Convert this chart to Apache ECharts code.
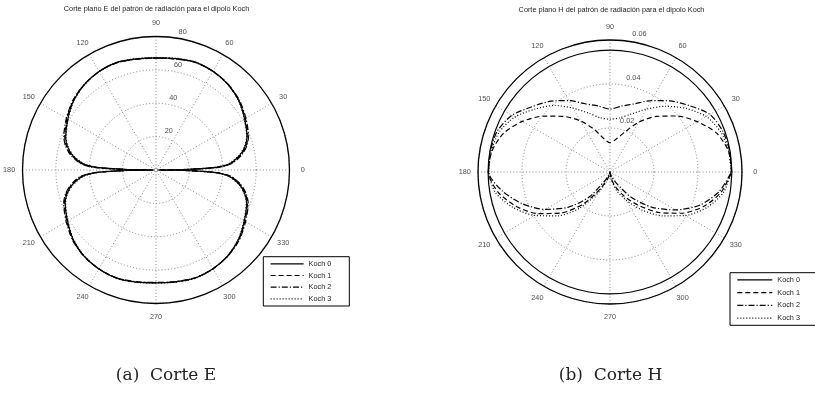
<!DOCTYPE html>
<html>
<head>
<meta charset="utf-8">
<script src="https://cdn.jsdelivr.net/npm/echarts@6/dist/echarts.min.js"></script>
<style>
  html, body { margin: 0; padding: 0; background: #fff; }
  #chart { width: 815px; height: 407px; }
</style>
</head>
<body>
<div id="chart"></div>
<script>
// Angles (degrees) at which the E-plane cut is sampled
const ePhi = [0, 1, 2.5, 5, 10, 15, 20, 30, 40, 50, 60, 70, 80, 90, 100, 110, 120, 130, 140, 150, 160, 165, 170, 175, 177.5, 179, 180,
  181, 182.5, 185, 190, 195, 200, 210, 220, 230, 240, 250, 260, 270, 280, 290, 300, 310, 320, 330, 340, 345, 350, 355, 357.5, 359, 360];

// E-plane magnitude for each Koch iteration
const eKoch0 = [1.5, 18, 36, 44.5, 51, 55.3, 58, 61.3, 64.7, 67, 68.3, 68.8, 67.8, 67.2, 67.6, 68.6, 68.2, 66.8, 64.5, 61, 57.6, 55, 50.8, 44, 35.5, 17, 1.5,
  17.5, 35.8, 44.3, 51, 55.2, 57.9, 61.2, 64.8, 67.2, 68.5, 69, 68.2, 67.6, 68.1, 68.9, 68.4, 67, 64.6, 61.1, 57.8, 55.1, 50.9, 44.2, 35.7, 17.8, 1.5];
const eKoch1 = [2, 19, 37, 45.2, 51.6, 55.9, 58.6, 61.8, 64.9, 67.1, 68.2, 68.7, 67.7, 67.1, 67.5, 68.5, 68.1, 66.9, 64.8, 61.6, 58.2, 55.6, 51.4, 44.8, 36.5, 18.5, 2,
  18.6, 36.6, 45, 51.5, 55.8, 58.5, 61.7, 65, 67.3, 68.4, 68.9, 68.1, 67.5, 68, 68.8, 68.3, 67.1, 64.9, 61.6, 58.3, 55.6, 51.4, 44.9, 36.6, 18.8, 2];
const eKoch2 = [2.5, 20, 38, 45.8, 52.2, 56.4, 59, 62.2, 65.2, 67.2, 68.3, 68.6, 67.6, 67, 67.4, 68.4, 68.2, 67, 65, 62, 58.8, 56.2, 52, 45.5, 37.5, 19.5, 2.5,
  19.6, 37.6, 45.6, 52, 56.2, 58.9, 62.1, 65.3, 67.4, 68.4, 68.8, 68, 67.4, 67.9, 68.7, 68.3, 67.2, 65.2, 62, 58.8, 56.1, 51.9, 45.5, 37.4, 19.7, 2.5];
const eKoch3 = [1, 16, 34.5, 43.8, 50.5, 55, 57.8, 61.1, 64.6, 67, 68.4, 68.9, 68, 67.4, 67.8, 68.7, 68.3, 66.7, 64.3, 60.8, 57.3, 54.6, 50.3, 43.4, 34.8, 16.2, 1,
  16.5, 35, 43.6, 50.4, 54.9, 57.6, 61, 64.6, 67.1, 68.5, 69.1, 68.3, 67.7, 68.2, 69, 68.5, 67, 64.4, 60.9, 57.5, 54.7, 50.5, 43.6, 35.1, 16.8, 1];

// Angles (degrees) at which the H-plane cut is sampled
const hPhi = [0, 10, 20, 30, 40, 50, 60, 70, 80, 90, 100, 110, 120, 130, 140, 150, 160, 170, 180,
  190, 200, 210, 220, 230, 240, 250, 260, 270, 280, 290, 300, 310, 320, 330, 340, 350, 360];

// H-plane magnitude for each Koch iteration
const hKoch0 = [0.0554, 0.0554, 0.0554, 0.0554, 0.0554, 0.0554, 0.0554, 0.0554, 0.0554, 0.0554, 0.0554, 0.0554, 0.0554, 0.0554, 0.0554, 0.0554, 0.0554, 0.0554, 0.0554,
  0.0554, 0.0554, 0.0554, 0.0554, 0.0554, 0.0554, 0.0554, 0.0554, 0.0554, 0.0554, 0.0554, 0.0554, 0.0554, 0.0554, 0.0554, 0.0554, 0.0554, 0.0554];
const hKoch1 = [0.0553, 0.0547, 0.0516, 0.0458, 0.0396, 0.0330, 0.0262, 0.0192, 0.0150, 0.0133, 0.0152, 0.0205, 0.0268, 0.0330, 0.0395, 0.0460, 0.0515, 0.0545, 0.0553,
  0.0518, 0.0455, 0.0378, 0.0290, 0.0190, 0.0090, 0.0035, 0.0012, 0.0003, 0.0030, 0.0070, 0.0125, 0.0195, 0.0285, 0.0375, 0.0455, 0.0515, 0.0553];
const hKoch2 = [0.0552, 0.0552, 0.0545, 0.0524, 0.0470, 0.0422, 0.0375, 0.0330, 0.0304, 0.0286, 0.0305, 0.0330, 0.0375, 0.0420, 0.0462, 0.0515, 0.0545, 0.0552, 0.0552,
  0.0497, 0.0423, 0.0340, 0.0250, 0.0150, 0.0045, 0.0015, 0.0005, 0.0000, 0.0010, 0.0025, 0.0060, 0.0150, 0.0250, 0.0345, 0.0437, 0.0505, 0.0552];
const hKoch3 = [0.0550, 0.0548, 0.0535, 0.0505, 0.0450, 0.0390, 0.0330, 0.0280, 0.0250, 0.0240, 0.0250, 0.0285, 0.0335, 0.0395, 0.0445, 0.0500, 0.0535, 0.0548, 0.0550,
  0.0530, 0.0470, 0.0395, 0.0310, 0.0215, 0.0110, 0.0045, 0.0015, 0.0000, 0.0035, 0.0090, 0.0150, 0.0225, 0.0310, 0.0395, 0.0470, 0.0525, 0.0550];

// Tick labels
const angleTicks = [0, 30, 60, 90, 120, 150, 180, 210, 240, 270, 300, 330];
const eRingTicks = [20, 40, 60, 80];
const hRingTicks = [0.02, 0.04, 0.06];

const seriesNames = ['Koch 0', 'Koch 1', 'Koch 2', 'Koch 3'];
const dashes = ['solid', [5, 3], [6, 2, 1.2, 2], [1, 2]];

const gridLine = { color: '#666', width: 0.8, type: [1, 2.2] };
const labelFont = { fontFamily: 'Liberation Sans, Arial, sans-serif', fontSize: 7.3, color: '#222' };

function pairs(phi, r) {
  return phi.map((a, i) => [r[i], a]);
}

function curveSeries(polarIndex, phi, values) {
  return values.map((v, k) => ({
    name: seriesNames[k],
    type: 'line',
    coordinateSystem: 'polar',
    polarIndex: polarIndex,
    data: pairs(phi, v),
    symbol: 'none',
    smooth: 0.25,
    animation: false,
    itemStyle: { color: '#000' },
    lineStyle: { color: '#000', width: 1.2, type: dashes[k] },
    z: 5
  }));
}

function labelSeries(polarIndex, data, fmt, label) {
  return {
    type: 'scatter',
    coordinateSystem: 'polar',
    polarIndex: polarIndex,
    data: data,
    symbolSize: 0.01,
    clip: false,
    silent: true,
    animation: false,
    itemStyle: { color: 'transparent' },
    label: Object.assign({ show: true, formatter: fmt }, labelFont, label),
    z: 10
  };
}

function polarAxes(polarIndex, maxR, step) {
  return {
    angle: {
      polarIndex: polarIndex, type: 'value', min: 0, max: 360, interval: 30,
      startAngle: 0, clockwise: false,
      axisLine: { show: true, lineStyle: { color: '#000', width: 1.3 } },
      axisTick: { show: false }, axisLabel: { show: false },
      splitLine: { show: true, lineStyle: gridLine }
    },
    radius: {
      polarIndex: polarIndex, type: 'value', min: 0, max: maxR, interval: step,
      axisLine: { show: false }, axisTick: { show: false }, axisLabel: { show: false },
      splitLine: { show: true, lineStyle: gridLine }
    }
  };
}

const eAxes = polarAxes(0, 80, 20);
const hAxes = polarAxes(1, 0.06, 0.02);

function legendAt(left, top, gap, width) {
  return {
    data: seriesNames,
    orient: 'vertical',
    left: left, top: top,
    itemWidth: width, itemHeight: 8, itemGap: gap,
    padding: [3.6, 18, 3.6, 6.7],
    borderColor: '#000', borderWidth: 1, borderRadius: 0,
    backgroundColor: '#fff',
    selectedMode: false,
    itemStyle: { opacity: 0 },
    lineStyle: { color: '#000', width: 1.2 },
    textStyle: labelFont
  };
}

const option = {
  backgroundColor: '#fff',
  animation: false,
  polar: [
    { center: [156, 170], radius: 133.5 },
    { center: [610, 172], radius: 132 }
  ],
  angleAxis: [eAxes.angle, hAxes.angle],
  radiusAxis: [eAxes.radius, hAxes.radius],
  legend: [
    legendAt(263.3, 256.7, 4.7, 33),
    legendAt(730, 272.7, 5.8, 35)
  ],
  series: [
    ...curveSeries(0, ePhi, [eKoch0, eKoch1, eKoch2, eKoch3]),
    ...curveSeries(1, hPhi, [hKoch0, hKoch1, hKoch2, hKoch3]),
    // angle labels at 1.1 × the outer radius
    labelSeries(0, angleTicks.map(a => [88, a]), p => String(p.value[1]), { position: 'inside' }),
    labelSeries(1, angleTicks.map(a => [0.066, a]), p => String(p.value[1]), { position: 'inside' }),
    // ring labels just beside each ring, near 82°
    labelSeries(0, eRingTicks.map(r => [r, 82]), p => String(p.value[0]), { position: 'inside', align: 'left', offset: [4, -6] }),
    labelSeries(1, hRingTicks.map(r => [r, 82]), p => p.value[0].toFixed(2), { position: 'inside', align: 'left', offset: [4, -7] })
  ],
  graphic: [
    { type: 'text', style: { text: 'Corte plano E del patrón de radiación para el dipolo Koch', x: 156.5, y: 8.5, align: 'center', verticalAlign: 'middle', font: '7.3px "Liberation Sans", Arial, sans-serif', fill: '#222' } },
    { type: 'text', style: { text: 'Corte plano H del patrón de radiación para el dipolo Koch', x: 611.5, y: 9.5, align: 'center', verticalAlign: 'middle', font: '7.3px "Liberation Sans", Arial, sans-serif', fill: '#222' } },
    { type: 'text', style: { text: '(a)  Corte E', x: 166, y: 376, align: 'center', verticalAlign: 'middle', font: '17px "DejaVu Serif", "Liberation Serif", serif', fill: '#222' } },
    { type: 'text', style: { text: '(b)  Corte H', x: 610.5, y: 376, align: 'center', verticalAlign: 'middle', font: '17px "DejaVu Serif", "Liberation Serif", serif', fill: '#222' } }
  ]
};

const chart = echarts.init(document.getElementById('chart'), null, { renderer: 'canvas' });
chart.setOption(option);
</script>
</body>
</html>
